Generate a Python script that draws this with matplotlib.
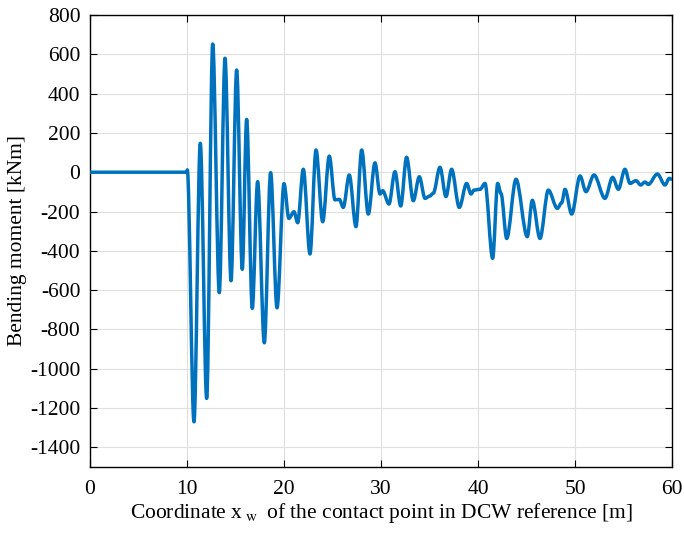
import matplotlib
matplotlib.use("Agg")
import matplotlib.pyplot as plt
from matplotlib.path import Path
from matplotlib.patches import PathPatch

plt.rcParams['font.family'] = ['Liberation Serif', 'DejaVu Serif']
plt.rcParams['mathtext.fontset'] = 'stix'
plt.rcParams['axes.unicode_minus'] = False

# Extrema/key points (x in m, y in kNm)
x_pts = [0.0, 10.0, 10.03, 10.72, 11.37, 12.03, 12.65, 13.33, 13.92, 14.54, 15.12, 15.70,
         16.15, 16.73, 17.28, 17.97, 18.62, 19.28, 20.0, 20.5, 21.03, 21.41, 21.99, 22.68,
         23.30, 23.99, 24.67, 25.26, 25.70, 26.11, 26.73, 27.42, 28.01, 28.69, 29.38, 29.90,
         30.17, 30.82, 31.44, 32.03, 32.64, 33.33, 33.95, 34.54, 35.05, 35.39, 36.08, 36.70,
         37.28, 38.07, 38.83, 39.28, 39.59, 40.21, 40.72, 41.51, 42.03, 42.37, 42.96, 43.92,
         45.08, 45.60, 46.39, 47.25, 48.18, 48.63, 48.97, 49.66, 50.52, 51.13, 51.96, 53.09,
         53.88, 54.47, 55.15, 55.67, 56.29, 56.77, 57.22, 57.56, 58.49, 59.28, 59.72, 60.0]
y_pts = [0, 0, 12, -1270, 147, -1151, 652, -613, 580, -552, 520, -494,
         269, -693, -48, -868, -2, -690, -58, -235, -201, -257, 15, -416,
         113, -252, 82, -141, -138, -179, -14, -277, 113, -213, 48, -111,
         -94, -162, 3, -172, 76, -145, -23, -133, -121, -107, 25, -124,
         15, -179, -57, -111, -91, -87, -57, -438, -57, -108, -337, -36,
         -328, -143, -337, -91, -184, -155, -87, -213, -19, -99, -14, -133,
         -26, -87, 15, -57, -43, -65, -50, -62, -9, -65, -31, -36]

fig = plt.figure(figsize=(6.84, 5.33), dpi=100)
ax = fig.add_axes([90/684, 66/533, 582/684, 452/533])

# Smooth curve through the points using cubic Bezier segments (horizontal tangents)
verts = [(x_pts[0], y_pts[0])]
codes = [Path.MOVETO]
for i in range(1, len(x_pts)):
    x0, y0 = x_pts[i-1], y_pts[i-1]
    x1, y1 = x_pts[i], y_pts[i]
    dx = x1 - x0
    verts += [(x0 + dx/3, y0), (x1 - dx/3, y1), (x1, y1)]
    codes += [Path.CURVE4] * 3
patch = PathPatch(Path(verts, codes), facecolor='none', edgecolor='#0072BD',
                  linewidth=2.5, joinstyle='round', capstyle='round', zorder=3)
ax.add_patch(patch)

ax.set_xlim(0, 60)
ax.set_ylim(-1500, 800)
ax.set_xticks(range(0, 61, 10))
ax.set_yticks(range(-1400, 801, 200))
ax.grid(True, color='#DFDFDF', linewidth=0.8)
ax.set_axisbelow(True)
ax.tick_params(direction='in', top=True, right=True, labelsize=15.5, length=5, width=0.8)
ax.tick_params(axis='x', pad=9)
ax.tick_params(axis='y', pad=7)
for s in ax.spines.values():
    s.set_linewidth(1.0)
ax.set_xlabel(r'Coordinate x$_{\;\mathrm{w}}\;$ of the contact point in DCW reference [m]',
              fontsize=15.5, labelpad=2)
ax.set_ylabel('Bending moment [kNm]', fontsize=15.5, labelpad=2)

fig.savefig('out.png', dpi=100)
